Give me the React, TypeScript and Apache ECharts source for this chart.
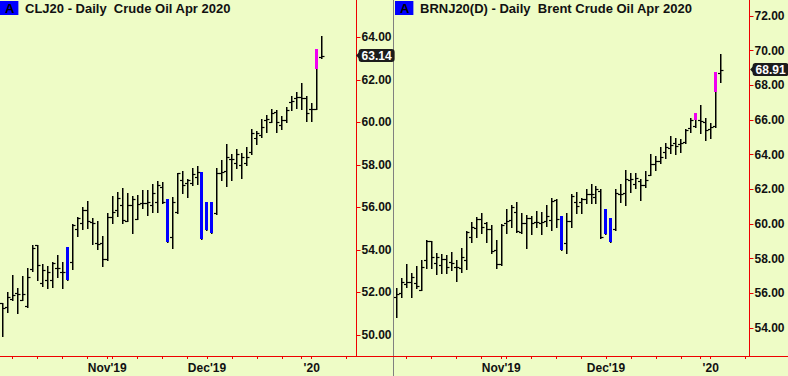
import React, { useEffect, useRef } from 'react';
import * as echarts from 'echarts';

const FONT = "'Liberation Sans', Arial, sans-serif";
const BG = '#eefcc6';
const RED = '#ee0000';
const TXT = '#111111';
const BLUE = '#0000ff';
const MAGENTA = '#f000f0';

// trading days
const OCT19 = [3, 4, 7, 8, 9, 10, 11, 14, 15, 16, 17, 18, 21, 22, 23, 24, 25, 28, 29, 30, 31];
const NOV19_CL = [1, 4, 5, 6, 7, 8, 11, 12, 13, 14, 15, 18, 19, 20, 21, 22, 25, 26, 27, 29];
const NOV19_BRN = [1, 4, 5, 6, 7, 8, 11, 12, 13, 14, 15, 18, 19, 20, 21, 22, 25, 26, 27, 28, 29];
const DEC19 = [2, 3, 4, 5, 6, 9, 10, 11, 12, 13, 16, 17, 18, 19, 20, 23, 24, 26, 27, 30, 31];
const JAN20 = [2, 3, 6, 7, 8, 9, 10, 13, 14, 15, 16, 17, 21, 22, 23, 24, 27];

const TICK_DATES = [
  '2019-10-07', '2019-10-14', '2019-10-21', '2019-10-28', '2019-11-01', '2019-11-04', '2019-11-11',
  '2019-11-18', '2019-11-25', '2019-12-02', '2019-12-09', '2019-12-16', '2019-12-23', '2019-12-30',
  '2020-01-02', '2020-01-13',
];
const MONTH_LABELS: Record<string, string> = {
  '2019-11-01': "Nov'19",
  '2019-12-02': "Dec'19",
  '2020-01-02': "'20",
};

// CLJ20
const CL_OPEN = [51.49, 51.33, 51.68, 51.96, 51.65, 51.37, 53.09, 54.23, 52.43, 52.59, 52.59, 53.14, 52.98, 52.8, 53.42, 54.97, 55.28, 55.88, 55.33, 54.34, 54.31, 53.56, 55.57, 55.88, 56.11, 55.38, 56.11, 55.44, 56.19, 56.22, 56.11, 56.27, 56.98, 56.2, 54.59, 55.8, 57.29, 57.16, 57.13, 57.45, 57.6, 55.0, 55.9, 55.75, 57.6, 57.73, 58.26, 58.07, 57.99, 58.1, 58.62, 59.25, 59.41, 60.11, 60.03, 60.5, 59.88, 60.11, 60.97, 61.13, 61.21, 61.13, 60.61, 60.61, 63.06];
const CL_HIGH = [51.49, 52.01, 52.82, 52.19, 52.78, 53.14, 54.23, 54.23, 53.32, 53.25, 53.45, 53.75, 53.42, 54.14, 55.22, 55.53, 56.0, 56.29, 55.49, 55.38, 54.67, 55.72, 56.54, 56.71, 56.91, 56.66, 56.54, 56.58, 56.82, 56.82, 57.09, 57.24, 57.21, 56.4, 56.51, 57.63, 57.71, 57.34, 57.84, 57.95, 57.68, 56.27, 56.27, 57.84, 58.23, 58.98, 58.5, 58.75, 58.54, 58.86, 59.67, 59.61, 60.14, 60.35, 60.61, 60.58, 60.3, 60.71, 61.25, 61.44, 61.87, 61.24, 60.89, 63.45, 64.06];
const CL_LOW = [49.97, 51.1, 51.65, 51.02, 51.65, 51.3, 52.99, 52.59, 52.31, 52.23, 52.27, 52.71, 52.23, 52.6, 53.12, 54.67, 54.99, 55.05, 54.3, 54.05, 53.26, 53.53, 55.25, 55.61, 55.28, 55.36, 54.81, 55.44, 55.96, 55.63, 55.8, 55.8, 56.19, 54.39, 54.11, 55.75, 56.66, 56.51, 57.05, 57.1, 54.51, 54.94, 54.81, 55.68, 57.29, 57.02, 57.29, 57.84, 57.4, 57.99, 58.51, 58.97, 59.3, 59.53, 60.0, 59.56, 59.67, 60.03, 60.58, 60.66, 60.61, 60.08, 60.08, 60.61, 63.01];
const CL_CLOSE = [51.29, 51.8, 51.88, 51.93, 51.93, 52.71, 54.08, 53.29, 53.06, 52.98, 53.37, 53.14, 52.95, 53.9, 55.17, 55.49, 55.88, 55.36, 55.28, 54.28, 53.59, 55.57, 55.8, 56.43, 55.41, 56.11, 56.38, 56.16, 56.19, 56.27, 56.66, 57.05, 56.27, 54.6, 56.24, 57.6, 57.05, 57.29, 57.57, 57.68, 54.7, 55.9, 56.1, 57.63, 57.68, 58.36, 58.28, 58.51, 58.39, 58.39, 59.48, 59.48, 59.8, 60.14, 60.42, 60.03, 60.11, 60.58, 61.02, 61.21, 61.13, 60.46, 60.63, 63.0, 63.14];
const CL_BOX_IDX = [13, 33, 40, 41, 42, 63];
const CL_BOX_HI = [54.14, 56.4, 57.68, 56.27, 56.27, 63.45];
const CL_BOX_LO = [52.6, 54.39, 54.51, 54.94, 54.81, 62.51];
const CL_BOX_COLOR = [BLUE, BLUE, BLUE, BLUE, BLUE, MAGENTA];
const CL_LAST = 63.14;

// BRNJ20
const BRN_OPEN = [55.81, 56.0, 56.54, 56.63, 56.57, 56.19, 57.92, 59.02, 57.73, 57.63, 57.96, 57.82, 57.5, 57.44, 57.92, 59.27, 59.75, 60.27, 60.04, 59.71, 58.5, 57.67, 60.04, 60.23, 60.67, 59.56, 60.04, 60.36, 60.09, 60.04, 60.19, 60.23, 61.38, 60.3, 58.88, 60.19, 61.25, 61.25, 61.42, 61.73, 61.58, 61.9, 59.6, 60.2, 59.71, 61.71, 61.77, 62.54, 62.31, 62.5, 62.25, 62.81, 63.46, 63.65, 64.17, 64.36, 64.65, 64.6, 64.75, 65.52, 65.65, 66.0, 65.9, 65.48, 65.65, 68.69];
const BRN_HIGH = [56.29, 56.86, 57.67, 57.15, 57.57, 57.92, 59.08, 59.04, 58.34, 58.27, 58.21, 58.4, 57.92, 58.59, 59.61, 60.09, 60.38, 60.65, 60.09, 59.94, 59.08, 60.0, 60.86, 61.09, 61.29, 60.61, 60.52, 60.46, 60.73, 60.67, 61.09, 61.48, 61.42, 60.48, 60.65, 61.71, 61.84, 61.52, 62.0, 62.29, 62.19, 62.02, 60.86, 60.34, 62.04, 62.31, 63.11, 62.96, 62.92, 62.58, 63.06, 64.04, 63.92, 64.46, 64.69, 65.08, 64.94, 64.88, 65.5, 66.1, 66.4, 66.86, 66.1, 65.81, 68.77, 69.81];
const BRN_LOW = [54.61, 55.81, 56.34, 55.81, 56.29, 56.19, 57.44, 57.44, 57.09, 57.15, 57.15, 57.34, 56.73, 57.21, 57.38, 58.96, 59.23, 59.5, 58.94, 58.31, 57.44, 57.63, 59.5, 59.84, 59.56, 59.5, 58.59, 59.42, 59.84, 59.42, 59.88, 59.65, 59.84, 58.52, 58.31, 59.81, 60.65, 60.65, 61.19, 61.19, 61.19, 59.17, 59.42, 58.96, 59.65, 61.25, 61.11, 61.86, 62.06, 61.38, 62.15, 62.81, 63.11, 63.54, 63.83, 64.08, 64.04, 64.17, 64.65, 65.33, 65.58, 65.23, 64.85, 64.98, 65.58, 68.21];
const BRN_CLOSE = [55.94, 56.63, 56.63, 56.96, 56.42, 57.5, 59.02, 58.11, 58.11, 57.96, 57.5, 57.77, 57.5, 58.11, 59.56, 59.84, 60.27, 59.84, 59.73, 58.44, 57.67, 59.94, 60.19, 61.0, 59.6, 60.04, 60.36, 60.04, 60.09, 60.13, 60.48, 61.34, 60.29, 58.7, 60.17, 61.63, 61.06, 61.42, 61.71, 61.73, 62.02, 59.27, 60.5, 59.1, 61.77, 61.71, 62.58, 62.58, 62.65, 62.25, 62.54, 63.46, 63.65, 63.85, 64.42, 64.56, 64.52, 64.65, 65.42, 66.0, 66.2, 65.94, 65.42, 65.58, 68.3, 68.91];
const BRN_BOX_IDX = [33, 42, 43, 60, 64];
const BRN_BOX_HI = [60.48, 60.86, 60.34, 66.4, 68.77];
const BRN_BOX_LO = [58.52, 59.42, 58.96, 66.0, 67.63];
const BRN_BOX_COLOR = [BLUE, BLUE, BLUE, MAGENTA, MAGENTA];
const BRN_LAST = 68.91;

function pad(n: number) {
  return n < 10 ? '0' + n : '' + n;
}
function buildDates(months: [string, number[]][]) {
  const out: string[] = [];
  months.forEach(([ym, days]) => days.forEach((d) => out.push(ym + '-' + pad(d))));
  return out;
}
const CL_DATES = buildDates([['2019-10', OCT19], ['2019-11', NOV19_CL], ['2019-12', DEC19], ['2020-01', JAN20]]).slice(0, 79);
const BRN_DATES = buildDates([['2019-10', OCT19], ['2019-11', NOV19_BRN], ['2019-12', DEC19], ['2020-01', JAN20]]).slice(0, 79);

function makeRender(boxIdx: number[], boxHi: number[], boxLo: number[], boxColor: string[]) {
  return (params: any, api: any) => {
    const i = api.value(0);
    const o = api.value(1);
    const h = api.value(2);
    const l = api.value(3);
    const c = api.value(4);
    const pH = api.coord([i, h]);
    const pL = api.coord([i, l]);
    const x = Math.floor(pH[0]) + 0.75;
    const yO = Math.round(api.coord([i, o])[1]) + 0.5;
    const yC = Math.round(api.coord([i, c])[1]) + 0.5;
    const k = boxIdx.indexOf(i);
    const inBox = (v: number) => k >= 0 && v >= boxLo[k] - 1e-9 && v <= boxHi[k] + 1e-9;
    const vst = { stroke: '#000', lineWidth: 1.5 };
    const st = { stroke: '#000', lineWidth: 1.2 };
    const children: any[] = [
      { type: 'line', shape: { x1: x, y1: Math.round(pH[1]), x2: x, y2: Math.round(pL[1]) + 1 }, style: vst },
    ];
    if (!inBox(o)) children.push({ type: 'line', shape: { x1: x - 2.75, y1: yO, x2: x, y2: yO }, style: st });
    if (!inBox(c)) children.push({ type: 'line', shape: { x1: x, y1: yC, x2: x + 2.75, y2: yC }, style: st });
    if (k >= 0) {
      const a = api.coord([i, boxHi[k]]);
      const b = api.coord([i, boxLo[k]]);
      children.push({
        type: 'rect',
        shape: { x: Math.floor(pH[0]) - 1, y: Math.round(a[1]), width: 3, height: Math.round(b[1]) - Math.round(a[1]) },
        style: { fill: boxColor[k] },
      });
    }
    return { type: 'group', children };
  };
}

function ohlcData(o: number[], h: number[], l: number[], c: number[]) {
  return o.map((_, i) => [i, o[i], h[i], l[i], c[i]]);
}

const textBase = { fontFamily: FONT, fontWeight: 'bold' as const, color: TXT };

function xAxisCfg(gridIndex: number, dates: string[]) {
  const tickSet = new Set(TICK_DATES);
  return {
    type: 'category',
    gridIndex,
    data: dates,
    boundaryGap: true,
    axisLine: { show: true, onZero: false, lineStyle: { color: RED, width: 1 } },
    axisTick: {
      show: true,
      alignWithLabel: true,
      length: 3,
      interval: (i: number, v: string) => tickSet.has(v),
      lineStyle: { color: RED, width: 1 },
    },
    axisLabel: {
      ...textBase,
      fontSize: 12,
      margin: 6,
      interval: (i: number, v: string) => MONTH_LABELS[v] !== undefined,
      formatter: (v: string) => MONTH_LABELS[v] || '',
    },
    splitLine: { show: false },
  };
}

function yAxisCfg(gridIndex: number, min: number, max: number, offset: number) {
  return {
    type: 'value',
    gridIndex,
    position: 'right',
    offset,
    min,
    max,
    minInterval: 2,
    maxInterval: 2,
    axisLine: { show: true, onZero: false, lineStyle: { color: RED, width: 1 } },
    axisTick: { show: true, length: 4, lineStyle: { color: RED, width: 1 } },
    axisLabel: {
      ...textBase,
      fontSize: 12,
      margin: 5,
      showMinLabel: false,
      showMaxLabel: false,
      formatter: (v: number) => (Math.abs(v / 2 - Math.round(v / 2)) < 1e-6 ? v.toFixed(2) : ''),
    },
    splitLine: { show: false },
  };
}

function lastSeries(xi: number, yi: number, lastIdx: number, last: number) {
  return {
    type: 'line',
    xAxisIndex: xi,
    yAxisIndex: yi,
    data: [[lastIdx, last]],
    symbol: 'none',
    lineStyle: { color: 'rgba(0,0,0,0)' },
    silent: true,
    markPoint: {
      silent: true,
      symbol: 'triangle',
      symbolSize: [11, 5],
      symbolRotate: 90,
      symbolOffset: [7, 0],
      itemStyle: { color: '#1c1c1c' },
      label: { show: false },
      data: [{ coord: [70, last] }],
    },
    markLine: {
      silent: true,
      symbol: ['none', 'none'],
      lineStyle: { color: 'rgba(0,0,0,0)', width: 0 },
      label: {
        show: true,
        position: 'end',
        distance: 7,
        formatter: last.toFixed(2),
        fontFamily: FONT,
        fontWeight: 'bold',
        fontSize: 12,
        lineHeight: 13,
        color: '#ffffff',
        backgroundColor: '#1c1c1c',
        borderRadius: 3,
        padding: [0, 3, 0, 3],
      },
      data: [[{ coord: [lastIdx, last] }, { coord: [70, last] }]],
    },
  };
}

function titleCfg(text: string, left: number, box: boolean) {
  return {
    text,
    left,
    top: 1,
    padding: box ? [0, 4, 0, 5] : 0,
    backgroundColor: box ? BLUE : 'transparent',
    textStyle: { ...textBase, fontSize: 13, lineHeight: 14, color: box ? '#000' : TXT },
  };
}

export default function App() {
  const ref = useRef<HTMLDivElement>(null);
  useEffect(() => {
    document.body.style.margin = '0';
    const chart = echarts.init(ref.current as HTMLDivElement, undefined, { renderer: 'svg' });
    chart.setOption({
      animation: false,
      backgroundColor: BG,
      title: [
        titleCfg('A', 0, true),
        titleCfg('CLJ20 - Daily  Crude Oil Apr 2020', 25, false),
        titleCfg('A', 395, true),
        titleCfg('BRNJ20(D) - Daily  Brent Crude Oil Apr 2020', 420, false),
      ],
      grid: [
        { left: -1, width: 395, top: 0, height: 356 },
        { left: 394, width: 395, top: 0, height: 356 },
      ],
      xAxis: [xAxisCfg(0, CL_DATES), xAxisCfg(1, BRN_DATES)],
      yAxis: [yAxisCfg(0, 49.013, 65.754, -37.5), yAxisCfg(1, 52.381, 72.923, -38.5)],
      series: [
        {
          type: 'custom',
          xAxisIndex: 0,
          yAxisIndex: 0,
          clip: false,
          renderItem: makeRender(CL_BOX_IDX, CL_BOX_HI, CL_BOX_LO, CL_BOX_COLOR),
          encode: { x: 0, y: [1, 2, 3, 4] },
          data: ohlcData(CL_OPEN, CL_HIGH, CL_LOW, CL_CLOSE),
        },
        {
          type: 'custom',
          xAxisIndex: 1,
          yAxisIndex: 1,
          clip: false,
          renderItem: makeRender(BRN_BOX_IDX, BRN_BOX_HI, BRN_BOX_LO, BRN_BOX_COLOR),
          encode: { x: 0, y: [1, 2, 3, 4] },
          data: ohlcData(BRN_OPEN, BRN_HIGH, BRN_LOW, BRN_CLOSE),
        },
        lastSeries(0, 0, CL_CLOSE.length - 1, CL_LAST),
        lastSeries(1, 1, BRN_CLOSE.length - 1, BRN_LAST),
      ],
      graphic: [
        { type: 'rect', shape: { x: 393, y: 0, width: 1, height: 376 }, style: { fill: '#808080' }, silent: true },
      ],
    });
    return () => chart.dispose();
  }, []);
  return <div ref={ref} style={{ position: 'fixed', left: 0, top: 0, width: 788, height: 376 }} />;
}
